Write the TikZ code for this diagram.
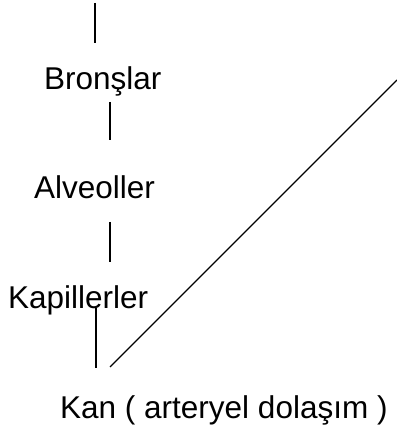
\documentclass[tikz,border=0pt]{standalone}
\usepackage{fontspec}
\setmainfont{Liberation Sans}
\begin{document}
\begin{tikzpicture}[x=1pt,y=1pt,
  lbl/.style={inner sep=0pt,anchor=base west,font=\fontsize{31.5}{36}\selectfont},
  conn/.style={line width=1.1pt,black}]
\useasboundingbox (0,0) rectangle (397,432);
\node[lbl] (bron) at (44,342) {Bronşlar};
\node[lbl] (alv) at (34,233) {Alveoller};
\node[lbl] (kap) at (8,123) {Kapillerler};
\node[lbl] (kan) at (60,13) {Kan ( arteryel dolaşım )};
\coordinate (a1) at (95,429); \coordinate (a2) at (95,389);
\coordinate (b1) at (110,330); \coordinate (b2) at (110,292);
\coordinate (c1) at (110,210); \coordinate (c2) at (110,170);
\coordinate (d1) at (96,124); \coordinate (d2) at (96,64);
\coordinate (e1) at (110,65); \coordinate (e2) at (397,352);
\draw[conn] (a1) -- (a2);
\draw[conn] (b1) -- (b2);
\draw[conn] (c1) -- (c2);
\draw[conn] (d1) -- (d2);
\draw[conn] (e1) -- (e2);
\end{tikzpicture}
\end{document}
